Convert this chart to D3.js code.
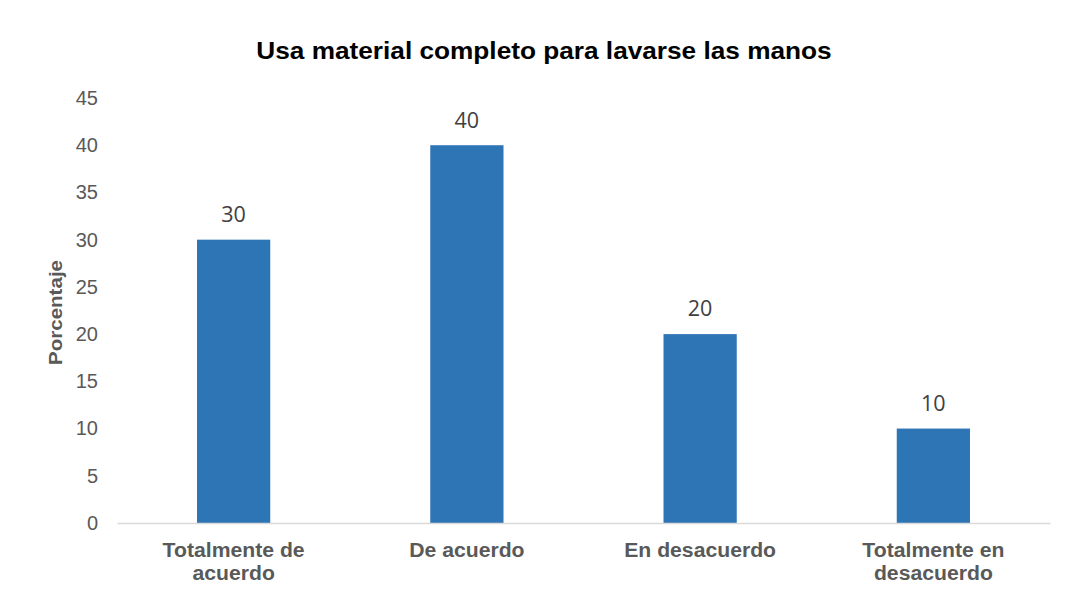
<!DOCTYPE html>
<html>
<head>
<meta charset="utf-8">
<script src="https://cdn.jsdelivr.net/npm/d3@7"></script>
<style>
  html, body { margin: 0; padding: 0; background: #fff; }
  svg { display: block; }
</style>
</head>
<body>
<svg id="chart" width="1068" height="594"></svg>
<script>
// Survey responses (percent)
const categories = [
  ["Totalmente de", "acuerdo"],
  ["De acuerdo"],
  ["En desacuerdo"],
  ["Totalmente en", "desacuerdo"]
];
const values = [30, 40, 20, 10];
const yTicks = [0, 5, 10, 15, 20, 25, 30, 35, 40, 45];
const title = "Usa material completo para lavarse las manos";
const yTitle = "Porcentaje";

const svg = d3.select("#chart");
const W = 1068, H = 594;
const margin = { top: 98, right: 18, bottom: 71, left: 117 };
const plotW = W - margin.left - margin.right;
const plotH = H - margin.top - margin.bottom;
const SANS = "Liberation Sans, Arial, sans-serif";
const SX = 1.07; // slight horizontal widening of label type

const keys = categories.map(c => c.join(" "));
const x = d3.scaleBand().domain(keys).range([0, plotW]).paddingInner(0.686).paddingOuter(0.343);
const y = d3.scaleLinear().domain([0, 45]).range([plotH, 0]);

// text placed at (tx, ty), optionally rotated, with local horizontal widening
function label(parent, tx, ty, rot, sx) {
  return parent.append("g")
    .attr("transform", `translate(${tx},${ty}) rotate(${rot}) scale(${sx},1)`)
    .append("text");
}

const g = svg.append("g").attr("transform", `translate(${margin.left},${margin.top})`);

// Title
label(svg, 544, 59.3, 0, SX)
  .attr("text-anchor", "middle")
  .attr("font-family", SANS)
  .attr("font-weight", "bold")
  .attr("font-size", 24.5)
  .attr("fill", "#000")
  .text(title);

// Y axis (labels only, no line)
const yAxis = g.append("g")
  .call(d3.axisLeft(y).tickValues(yTicks).tickSize(0).tickPadding(19));
yAxis.select(".domain").remove();
yAxis.selectAll("text")
  .attr("font-family", SANS)
  .attr("font-size", 20)
  .attr("fill", "#595959");

// Y axis title
label(svg, 62, 312.5, -90, SX)
  .attr("text-anchor", "middle")
  .attr("font-family", SANS)
  .attr("font-weight", "bold")
  .attr("font-size", 19.2)
  .attr("fill", "#595959")
  .text(yTitle);

// Bars
g.selectAll("rect.bar")
  .data(values)
  .join("rect")
  .attr("class", "bar")
  .attr("x", (d, i) => x(keys[i]))
  .attr("y", d => y(d))
  .attr("width", x.bandwidth())
  .attr("height", d => plotH - y(d))
  .attr("fill", "#2E75B6");

// X axis baseline
const xAxis = g.append("g")
  .attr("transform", `translate(0,${plotH})`)
  .call(d3.axisBottom(x).tickSize(0).tickFormat(""));
xAxis.select(".domain").attr("stroke", "#d9d9d9").attr("stroke-width", 1.3);

// Category labels (wrapped)
categories.forEach((lines, i) => {
  const cx = x(keys[i]) + x.bandwidth() / 2;
  const t = label(g, cx, plotH + 34, 0, SX)
    .attr("text-anchor", "middle")
    .attr("font-family", SANS)
    .attr("font-weight", "bold")
    .attr("font-size", 19.8)
    .attr("fill", "#595959");
  t.selectAll("tspan")
    .data(lines)
    .join("tspan")
    .attr("x", 0)
    .attr("y", (s, j) => j * 23.5)
    .text(s => s);
});

// Value labels
g.selectAll("text.val")
  .data(values)
  .join("text")
  .attr("class", "val")
  .attr("x", (d, i) => x(keys[i]) + x.bandwidth() / 2)
  .attr("y", d => y(d) - 17.7)
  .attr("text-anchor", "middle")
  .attr("font-family", "Open Sans, sans-serif")
  .attr("font-size", 21.5)
  .attr("fill", "#404040")
  .text(d => d);
</script>
</body>
</html>
